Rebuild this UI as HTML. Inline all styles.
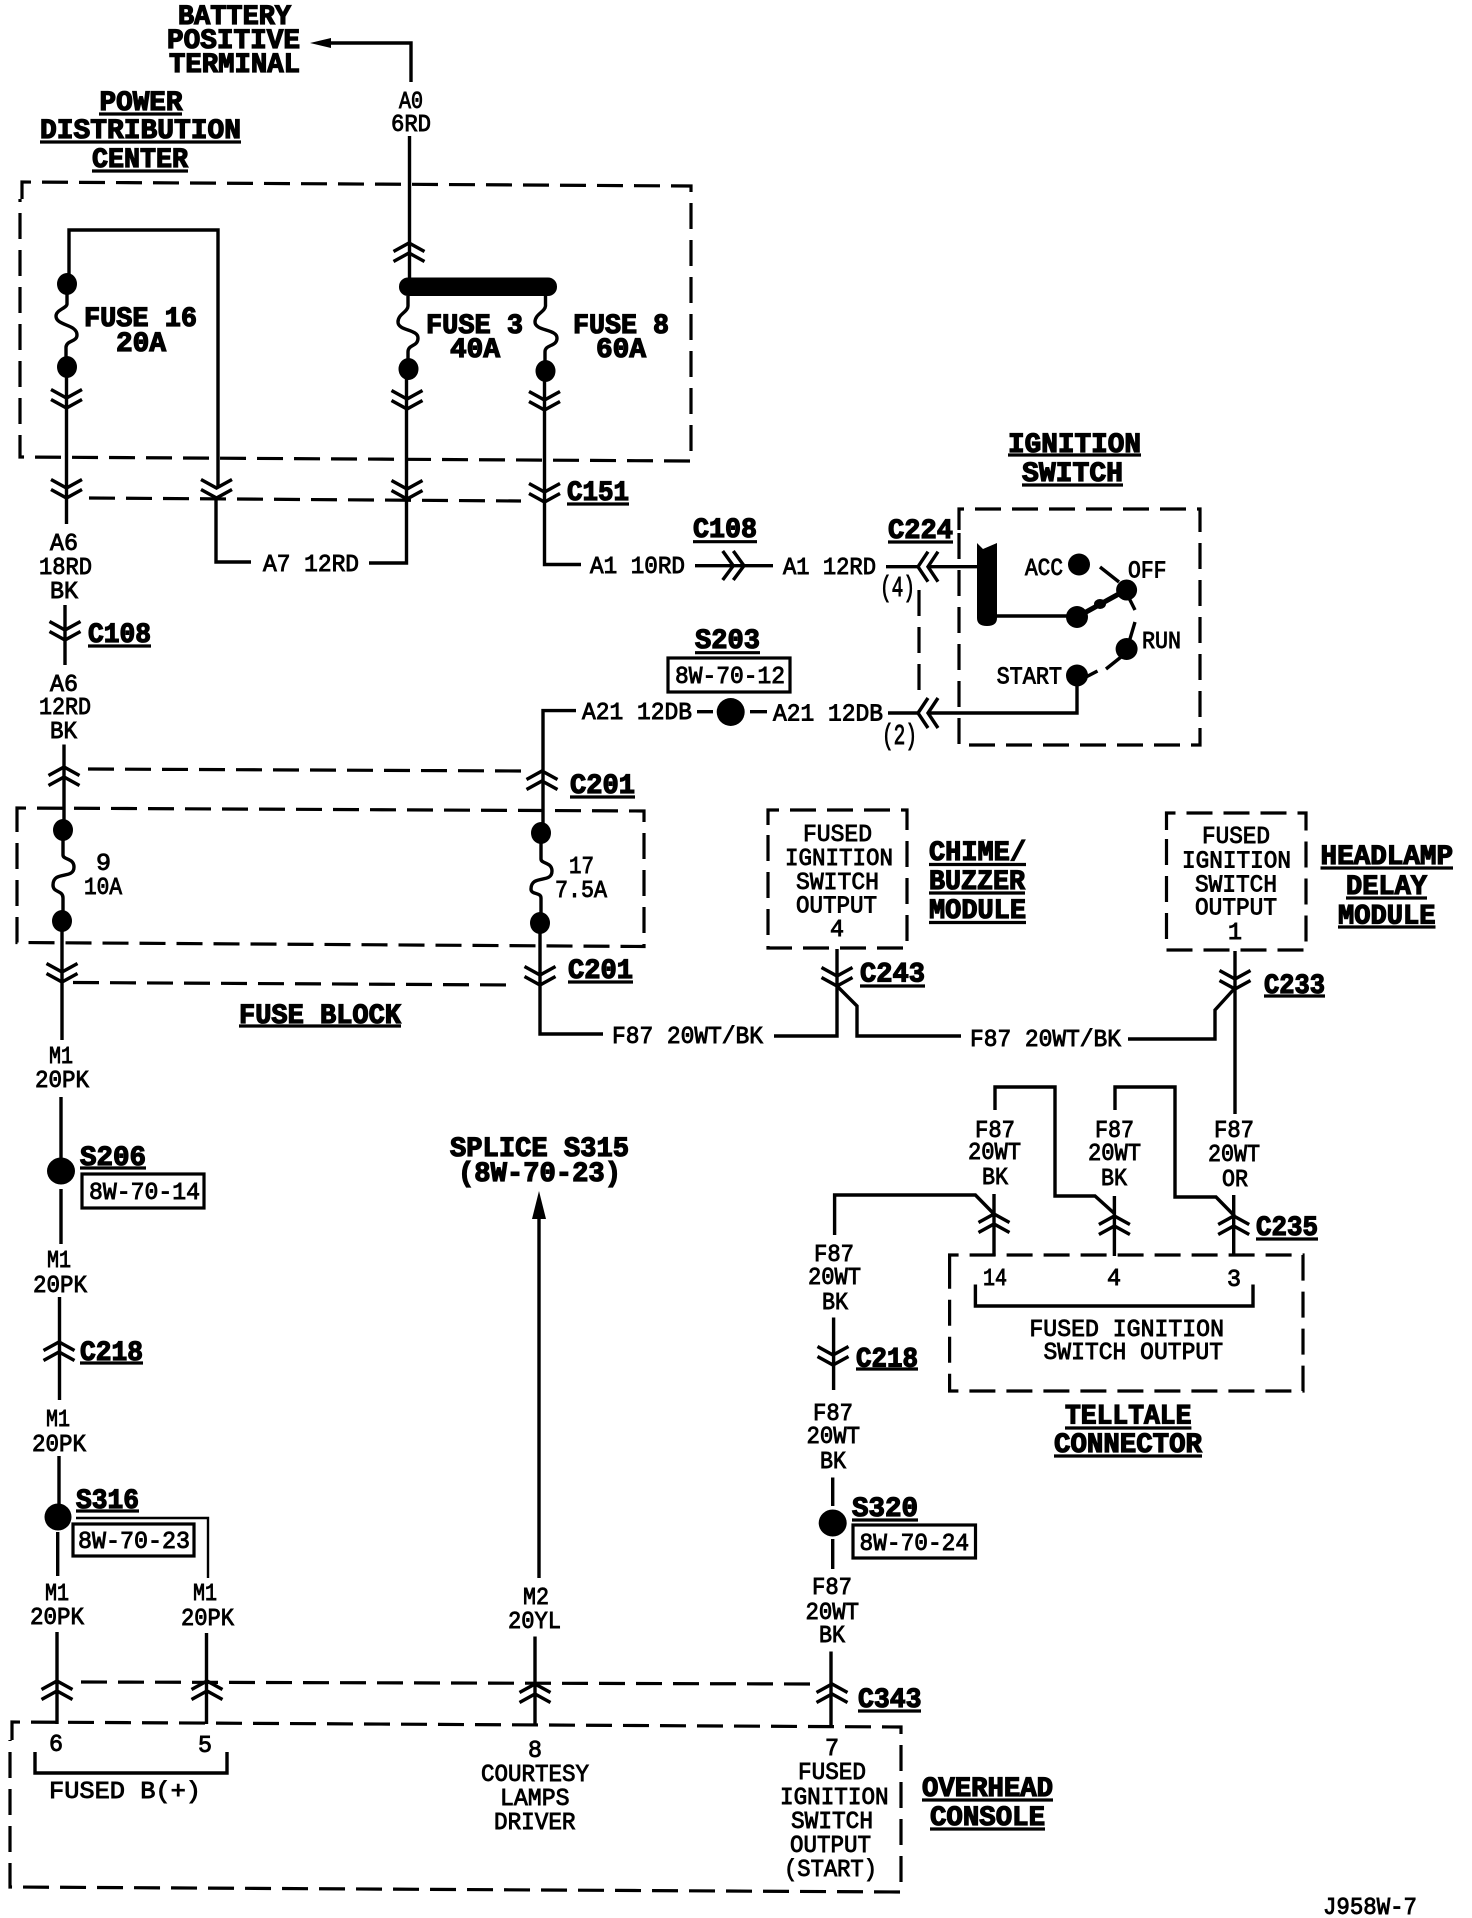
<!DOCTYPE html>
<html><head><meta charset="utf-8"><style>
html,body{margin:0;padding:0;background:#fff}
svg{display:block}
text{font-family:"Liberation Mono","Liberation Sans",sans-serif;font-size:24px;fill:#000;stroke:#000;stroke-width:.9px}
.h{font-weight:bold;font-size:28px;stroke-width:1.3px}
.p{font-size:29px}
.w{fill:none;stroke:#000;stroke-width:3.4;stroke-linejoin:miter}
.t{stroke-width:2.4}
.d{fill:none;stroke:#000;stroke-width:3.2;stroke-dasharray:26 11}
.u{fill:none;stroke:#000;stroke-width:3.2}
</style></head><body>
<svg width="1472" height="1918" viewBox="0 0 1472 1918" xmlns="http://www.w3.org/2000/svg">
<defs>
<g id="cd" class="w"><polyline points="-15.5,-8.5 0,0 15.5,-8.5"/><polyline points="-15.5,1.5 0,10 15.5,1.5"/></g>
<g id="cu" class="w"><polyline points="-15.5,8.5 0,0 15.5,8.5"/><polyline points="-15.5,18.5 0,10 15.5,18.5"/></g>
</defs>

<!-- Battery -->
<text class="h" x="178" y="24" textLength="113" lengthAdjust="spacingAndGlyphs">BATTERY</text>
<text class="h" x="167" y="48" textLength="133" lengthAdjust="spacingAndGlyphs">POSITIVE</text>
<text class="h" x="169" y="72" textLength="131" lengthAdjust="spacingAndGlyphs">TERMINAL</text>
<polygon points="310,43 331,38 331,48" fill="#000"/>
<path class="w" d="M329 43H411V82"/>
<text x="399" y="108" textLength="24" lengthAdjust="spacingAndGlyphs">A0</text>
<text x="391" y="131" textLength="40" lengthAdjust="spacingAndGlyphs">6RD</text>
<path class="w" d="M409.5 136V290"/>

<!-- PDC -->
<text class="h" x="99.5" y="110" textLength="83" lengthAdjust="spacingAndGlyphs">POWER</text><path class="u" d="M99 114H182"/>
<text class="h" x="40" y="138" textLength="201" lengthAdjust="spacingAndGlyphs">DISTRIBUTION</text><path class="u" d="M40 142H241"/>
<text class="h" x="92" y="167" textLength="96" lengthAdjust="spacingAndGlyphs">CENTER</text><path class="u" d="M92 171H188"/>
<path class="d" d="M22 199V182L691 186V461L20 457V199"/>

<rect x="399" y="277.5" width="158" height="18.5" rx="9" fill="#000"/>
<use href="#cu" x="409" y="243"/>

<!-- Fuse 16 -->
<path class="w" d="M218 488V230H69V284"/>
<ellipse cx="67" cy="284" rx="10" ry="11" fill="#000"/>
<path class="w" d="M67 294V304C67 308 56 310 56 316C56 326 77 324 77 335C77 342 67 340 66 347V367"/>
<ellipse cx="67" cy="367" rx="10" ry="11" fill="#000"/>
<path class="w" d="M66.5 367V524"/>
<use href="#cd" x="66.5" y="398"/><use href="#cd" x="66.5" y="488"/>
<text class="h" x="84" y="326" textLength="113" lengthAdjust="spacingAndGlyphs">FUSE 16</text>
<text class="h" x="116" y="351" textLength="50" lengthAdjust="spacingAndGlyphs">20A</text>

<!-- Fuse 3 -->
<path class="w" d="M408 296V306C408 312 398 314 398 322C398 331 418 329 418 338C418 347 408 344 408 352V369"/>
<ellipse cx="408.5" cy="369" rx="10" ry="11" fill="#000"/>
<path class="w" d="M406.5 369V563H369"/>
<use href="#cd" x="407" y="399"/><use href="#cd" x="407" y="489"/>
<text class="h" x="426" y="333" textLength="97" lengthAdjust="spacingAndGlyphs">FUSE 3</text>
<text class="h" x="450" y="357" textLength="50" lengthAdjust="spacingAndGlyphs">40A</text>

<!-- Fuse 8 -->
<path class="w" d="M545.5 296V306C545 312 535 314 535 322C535 331 557 329 557 338C557 347 545 344 545 352V371"/>
<ellipse cx="545.5" cy="371" rx="10" ry="11" fill="#000"/>
<path class="w" d="M544.5 371V564.5H581"/>
<use href="#cd" x="544.5" y="400"/><use href="#cd" x="544.5" y="492"/>
<text class="h" x="573" y="333" textLength="96" lengthAdjust="spacingAndGlyphs">FUSE 8</text>
<text class="h" x="596" y="357" textLength="50" lengthAdjust="spacingAndGlyphs">60A</text>

<use href="#cd" x="216.5" y="488"/>
<path class="w" d="M216 498V562H251"/>
<path class="d" d="M89 498L521 501"/>
<text class="h" x="567" y="500" textLength="62" lengthAdjust="spacingAndGlyphs">C151</text><path class="u" d="M567 504H629"/>
<text x="263" y="571" textLength="96" lengthAdjust="spacingAndGlyphs">A7 12RD</text>
<text x="590" y="573" textLength="95" lengthAdjust="spacingAndGlyphs">A1 10RD</text>

<!-- A6 column -->
<text x="50" y="550" textLength="28" lengthAdjust="spacingAndGlyphs">A6</text>
<text x="39" y="574" textLength="53" lengthAdjust="spacingAndGlyphs">18RD</text>
<text x="50" y="598" textLength="28" lengthAdjust="spacingAndGlyphs">BK</text>
<path class="w" d="M65 605V665"/>
<use href="#cd" x="65" y="630"/>
<text class="h" x="88" y="642" textLength="63" lengthAdjust="spacingAndGlyphs">C108</text><path class="u" d="M88 646H151"/>
<text x="50" y="691" textLength="28" lengthAdjust="spacingAndGlyphs">A6</text>
<text x="39" y="714" textLength="52" lengthAdjust="spacingAndGlyphs">12RD</text>
<text x="50" y="738" textLength="27" lengthAdjust="spacingAndGlyphs">BK</text>

<path class="w" d="M64 744.5V830"/>
<use href="#cu" x="64" y="767"/>
<path class="d" d="M88 769L521 771"/>
<use href="#cu" x="542" y="771"/>
<path class="w" d="M576 710.6H543V833"/>
<text class="h" x="570" y="793" textLength="65" lengthAdjust="spacingAndGlyphs">C201</text><path class="u" d="M570 797H635"/>

<!-- Fuse block -->
<path class="d" d="M17 825V808L644 811V946.5L17 942.5V825"/>
<ellipse cx="63" cy="830" rx="10" ry="11" fill="#000"/>
<path class="w" d="M63 840V855C63 860 74 858 74 867C74 880 53 870 53 885C53 893 63 890 63 898V921"/>
<ellipse cx="62" cy="921" rx="10" ry="11" fill="#000"/>
<ellipse cx="541" cy="833" rx="10" ry="11" fill="#000"/>
<path class="w" d="M541 843V859C541 864 552 862 552 871C552 884 531 874 531 889C531 895 541 892 541 898V923"/>
<ellipse cx="540" cy="923" rx="10" ry="11" fill="#000"/>
<text x="96" y="870" textLength="15" lengthAdjust="spacingAndGlyphs">9</text>
<text x="84" y="894" textLength="38" lengthAdjust="spacingAndGlyphs">10A</text>
<text x="569" y="873" textLength="25" lengthAdjust="spacingAndGlyphs">17</text>
<text x="555" y="897" textLength="52" lengthAdjust="spacingAndGlyphs">7.5A</text>

<path class="w" d="M62 921V1040"/>
<use href="#cd" x="62" y="972"/>
<path class="d" d="M73 982.5L516 985"/>
<path class="w" d="M540 923V1034H603"/>
<use href="#cd" x="540" y="975"/>
<text class="h" x="568" y="978" textLength="65" lengthAdjust="spacingAndGlyphs">C201</text><path class="u" d="M568 982H633"/>
<text class="h" x="239" y="1023" textLength="162" lengthAdjust="spacingAndGlyphs">FUSE BLOCK</text><path class="u" d="M239 1026H401"/>

<text x="612" y="1043" textLength="151" lengthAdjust="spacingAndGlyphs">F87 20WT/BK</text>

<!-- M1 column -->
<text x="49" y="1063" textLength="24" lengthAdjust="spacingAndGlyphs">M1</text>
<text x="35" y="1087" textLength="54" lengthAdjust="spacingAndGlyphs">20PK</text>
<path class="w" d="M61 1097V1160M61 1189V1244"/>
<ellipse cx="61" cy="1171" rx="14" ry="13.5" fill="#000"/>
<text class="h" x="80" y="1165" textLength="66" lengthAdjust="spacingAndGlyphs">S206</text><path class="u" d="M80 1168H146"/>
<rect class="u" x="82" y="1174" width="122" height="34"/>
<text x="89" y="1199" textLength="111" lengthAdjust="spacingAndGlyphs">8W-70-14</text>
<text x="47" y="1267" textLength="24" lengthAdjust="spacingAndGlyphs">M1</text>
<text x="33" y="1292" textLength="54" lengthAdjust="spacingAndGlyphs">20PK</text>
<path class="w" d="M59.5 1297V1400"/>
<use href="#cu" x="59" y="1342"/>
<text class="h" x="80" y="1360" textLength="63" lengthAdjust="spacingAndGlyphs">C218</text><path class="u" d="M80 1363H143"/>
<text x="46" y="1426" textLength="24" lengthAdjust="spacingAndGlyphs">M1</text>
<text x="32" y="1451" textLength="54" lengthAdjust="spacingAndGlyphs">20PK</text>
<path class="w" d="M59 1456V1505M57.7 1532V1576"/>
<ellipse cx="58" cy="1517" rx="13.5" ry="13.5" fill="#000"/>
<text class="h" x="76" y="1508" textLength="63" lengthAdjust="spacingAndGlyphs">S316</text><path class="u" d="M76 1511H139"/>
<path class="t w" d="M76 1518H208V1578"/>
<rect class="u" x="73" y="1524" width="121" height="32"/>
<text x="78" y="1548" textLength="112" lengthAdjust="spacingAndGlyphs">8W-70-23</text>

<text x="45" y="1600" textLength="24" lengthAdjust="spacingAndGlyphs">M1</text>
<text x="30" y="1624" textLength="54" lengthAdjust="spacingAndGlyphs">20PK</text>
<text x="193" y="1600" textLength="24" lengthAdjust="spacingAndGlyphs">M1</text>
<text x="181" y="1625" textLength="53" lengthAdjust="spacingAndGlyphs">20PK</text>
<path class="w" d="M57 1632V1724M206.5 1633V1724"/>
<use href="#cu" x="57" y="1681"/><use href="#cu" x="207" y="1681"/>

<!-- Splice -->
<text class="h" x="450" y="1156" textLength="179" lengthAdjust="spacingAndGlyphs">SPLICE S315</text>
<text class="h" x="458" y="1181" textLength="163" lengthAdjust="spacingAndGlyphs">(8W-70-23)</text>
<polygon points="539,1191 546,1219 532,1219" fill="#000"/>
<path class="w" d="M539 1215V1578"/>
<text x="523" y="1604" textLength="26" lengthAdjust="spacingAndGlyphs">M2</text>
<text x="508" y="1628" textLength="53" lengthAdjust="spacingAndGlyphs">20YL</text>
<path class="w" d="M535 1636.5V1725"/>
<use href="#cu" x="535" y="1684"/>

<!-- Overhead -->
<path class="d" d="M81 1682L815 1684"/>
<path class="d" d="M12 1740V1722L901 1727V1892L10 1887V1740"/>
<path class="w" d="M831 1651.5V1726"/>
<use href="#cu" x="832" y="1684"/>
<text class="h" x="858" y="1707" textLength="63.5" lengthAdjust="spacingAndGlyphs">C343</text><path class="u" d="M858 1711H921"/>
<text x="49" y="1751" textLength="14" lengthAdjust="spacingAndGlyphs">6</text>
<text x="198" y="1752" textLength="14" lengthAdjust="spacingAndGlyphs">5</text>
<path class="w" d="M35 1752V1773H227V1752"/>
<text x="49" y="1798" textLength="152" lengthAdjust="spacingAndGlyphs">FUSED B(+)</text>
<text x="528" y="1757" textLength="14" lengthAdjust="spacingAndGlyphs">8</text>
<text x="481" y="1781" textLength="108" lengthAdjust="spacingAndGlyphs">COURTESY</text>
<text x="500" y="1805" textLength="69.5" lengthAdjust="spacingAndGlyphs">LAMPS</text>
<text x="494" y="1829" textLength="81.5" lengthAdjust="spacingAndGlyphs">DRIVER</text>
<text x="825" y="1755" textLength="14" lengthAdjust="spacingAndGlyphs">7</text>
<text x="798" y="1779" textLength="68" lengthAdjust="spacingAndGlyphs">FUSED</text>
<text x="780" y="1804" textLength="108.6" lengthAdjust="spacingAndGlyphs">IGNITION</text>
<text x="791" y="1828" textLength="82" lengthAdjust="spacingAndGlyphs">SWITCH</text>
<text x="790" y="1852" textLength="81" lengthAdjust="spacingAndGlyphs">OUTPUT</text>
<text x="784" y="1876" textLength="93" lengthAdjust="spacingAndGlyphs">(START)</text>
<text class="h" x="922" y="1796" textLength="131" lengthAdjust="spacingAndGlyphs">OVERHEAD</text><path class="u" d="M922 1800H1053"/>
<text class="h" x="930" y="1825" textLength="115" lengthAdjust="spacingAndGlyphs">CONSOLE</text><path class="u" d="M930 1829H1045"/>
<text x="1323" y="1914" textLength="94" lengthAdjust="spacingAndGlyphs">J958W-7</text>

<!-- C108 horizontal + C224 -->
<text class="h" x="693" y="537" textLength="64" lengthAdjust="spacingAndGlyphs">C108</text><path class="u" d="M693 541.7H757"/>
<path class="w" d="M695 565.7H773"/>
<polyline class="w" points="722.7,551 733.3,565.7 722.7,580"/>
<polyline class="w" points="733.3,551 744,565.7 733.3,580"/>
<text x="783" y="574" textLength="93" lengthAdjust="spacingAndGlyphs">A1 12RD</text>
<path class="w" d="M886 566.7H918M928 566.7H980"/>
<polyline class="w" points="928,551.7 918,566.7 928,581.7"/>
<polyline class="w" points="938,551.7 928,566.7 938,581.7"/>
<text class="p" x="880" y="596" textLength="35" lengthAdjust="spacingAndGlyphs">(4)</text>
<text class="h" x="888" y="538" textLength="65" lengthAdjust="spacingAndGlyphs">C224</text><path class="u" d="M888 542H953"/>
<path class="d" d="M919 590V690"/>

<!-- S203 -->
<text class="h" x="695" y="648" textLength="65" lengthAdjust="spacingAndGlyphs">S203</text><path class="u" d="M695 652.7H760"/>
<rect class="u" x="668" y="658" width="122" height="34"/>
<text x="675" y="683" textLength="110" lengthAdjust="spacingAndGlyphs">8W-70-12</text>
<text x="582" y="719" textLength="110" lengthAdjust="spacingAndGlyphs">A21 12DB</text>
<path class="w" d="M697 711.7H713M750 711.7H767"/>
<circle cx="730.7" cy="712" r="14" fill="#000"/>
<text x="773" y="720.7" textLength="110" lengthAdjust="spacingAndGlyphs">A21 12DB</text>
<path class="w" d="M888 713H918M928 713H1077V675"/>
<polyline class="w" points="928,698 918,713 928,728"/>
<polyline class="w" points="938,698 928,713 938,728"/>
<text class="p" x="882" y="744" textLength="35" lengthAdjust="spacingAndGlyphs">(2)</text>

<!-- Ignition switch -->
<text class="h" x="1008" y="452" textLength="133" lengthAdjust="spacingAndGlyphs">IGNITION</text><path class="u" d="M1008 455H1141"/>
<text class="h" x="1022" y="481" textLength="101" lengthAdjust="spacingAndGlyphs">SWITCH</text><path class="u" d="M1022 485H1123"/>
<path class="d" d="M959 530V509H1200V745H959V530"/>
<path d="M977 543L983 549L997 543V618Q997 626 987 626Q977 626 977 618Z" fill="#000"/>
<path class="w" d="M995 616H1077"/>
<circle cx="1077" cy="617" r="11" fill="#000"/>
<text x="1025" y="575" textLength="38" lengthAdjust="spacingAndGlyphs">ACC</text>
<circle cx="1079" cy="564.5" r="11" fill="#000"/>
<text x="1128" y="577.5" textLength="38.5" lengthAdjust="spacingAndGlyphs">OFF</text>
<circle cx="1126.6" cy="590" r="10.5" fill="#000"/>
<path class="w" d="M1100 567L1119 582M1128 596L1135 610" />
<path d="M1077 617L1126 590" fill="none" stroke="#000" stroke-width="5"/>
<ellipse cx="1100" cy="604" rx="6" ry="5" fill="#000"/>
<circle cx="1126.6" cy="649" r="11" fill="#000"/>
<text x="1142" y="648" textLength="39" lengthAdjust="spacingAndGlyphs">RUN</text>
<path class="w" d="M1135 622L1127 649M1121 657L1106 669"/>
<text x="996.6" y="683.7" textLength="65.4" lengthAdjust="spacingAndGlyphs">START</text>
<circle cx="1077" cy="675.5" r="11" fill="#000"/>
<path class="w" d="M1086 677L1097.5 671"/>

<!-- Chime -->
<path class="d" d="M768 825V810H907V948H768V825"/>
<text x="803" y="841" textLength="69" lengthAdjust="spacingAndGlyphs">FUSED</text>
<text x="785" y="865" textLength="108" lengthAdjust="spacingAndGlyphs">IGNITION</text>
<text x="796" y="889" textLength="83" lengthAdjust="spacingAndGlyphs">SWITCH</text>
<text x="796" y="912.5" textLength="81" lengthAdjust="spacingAndGlyphs">OUTPUT</text>
<text x="830" y="936" textLength="14" lengthAdjust="spacingAndGlyphs">4</text>
<text class="h" x="929" y="860" textLength="97" lengthAdjust="spacingAndGlyphs">CHIME/</text><path class="u" d="M929 864.5H1026"/>
<text class="h" x="929" y="889" textLength="96" lengthAdjust="spacingAndGlyphs">BUZZER</text><path class="u" d="M929 893H1025"/>
<text class="h" x="929" y="918" textLength="97" lengthAdjust="spacingAndGlyphs">MODULE</text><path class="u" d="M929 922.5H1026"/>
<path class="w" d="M837 949V1036H774"/>
<use href="#cd" x="837" y="976"/>
<path class="w" d="M837 986L857 1006V1036H961"/>
<text class="h" x="860" y="981.6" textLength="65" lengthAdjust="spacingAndGlyphs">C243</text><path class="u" d="M860 986H925"/>
<text x="970" y="1046" textLength="151" lengthAdjust="spacingAndGlyphs">F87 20WT/BK</text>

<!-- Headlamp -->
<path class="d" d="M1166.5 830V813H1306V950H1166.5V830"/>
<text x="1202" y="843" textLength="68" lengthAdjust="spacingAndGlyphs">FUSED</text>
<text x="1182" y="867.6" textLength="109" lengthAdjust="spacingAndGlyphs">IGNITION</text>
<text x="1195" y="891.7" textLength="82" lengthAdjust="spacingAndGlyphs">SWITCH</text>
<text x="1195" y="914.5" textLength="82" lengthAdjust="spacingAndGlyphs">OUTPUT</text>
<text x="1228" y="939" textLength="14" lengthAdjust="spacingAndGlyphs">1</text>
<text class="h" x="1320.5" y="864" textLength="132.5" lengthAdjust="spacingAndGlyphs">HEADLAMP</text><path class="u" d="M1320.5 868H1453"/>
<text class="h" x="1346" y="894" textLength="81" lengthAdjust="spacingAndGlyphs">DELAY</text><path class="u" d="M1346 898H1427"/>
<text class="h" x="1338" y="923.5" textLength="97.5" lengthAdjust="spacingAndGlyphs">MODULE</text><path class="u" d="M1338 927H1435.5"/>
<path class="w" d="M1235 951V1114"/>
<use href="#cd" x="1235" y="979"/>
<path class="w" d="M1235 988L1215 1010V1039H1128"/>
<text class="h" x="1264" y="993" textLength="61" lengthAdjust="spacingAndGlyphs">C233</text><path class="u" d="M1264 996H1325"/>

<!-- Telltale -->
<path class="w" d="M995 1110V1087H1055V1196H1095L1115 1214"/>
<path class="w" d="M1115 1110V1087H1175V1197H1216L1234.6 1216"/>
<path class="w" d="M834.6 1235V1195H975.4L994 1214"/>
<path class="w" d="M994 1194V1256M1114.4 1196V1256M1233.7 1195V1256"/>
<use href="#cu" x="994" y="1214"/><use href="#cu" x="1114.4" y="1216"/><use href="#cu" x="1233.7" y="1216"/>
<text x="975" y="1137" textLength="40" lengthAdjust="spacingAndGlyphs">F87</text>
<text x="968" y="1159" textLength="53" lengthAdjust="spacingAndGlyphs">20WT</text>
<text x="982" y="1184" textLength="26" lengthAdjust="spacingAndGlyphs">BK</text>
<text x="1095" y="1137" textLength="39" lengthAdjust="spacingAndGlyphs">F87</text>
<text x="1088" y="1160" textLength="53" lengthAdjust="spacingAndGlyphs">20WT</text>
<text x="1101" y="1185" textLength="26" lengthAdjust="spacingAndGlyphs">BK</text>
<text x="1214" y="1137" textLength="40" lengthAdjust="spacingAndGlyphs">F87</text>
<text x="1208" y="1161" textLength="52" lengthAdjust="spacingAndGlyphs">20WT</text>
<text x="1222" y="1186" textLength="26" lengthAdjust="spacingAndGlyphs">OR</text>
<text class="h" x="1256" y="1235" textLength="62" lengthAdjust="spacingAndGlyphs">C235</text><path class="u" d="M1256 1239H1318"/>
<path class="d" d="M949.6 1272V1255H1303V1391H949.6V1272"/>
<text x="983" y="1285" textLength="24" lengthAdjust="spacingAndGlyphs">14</text>
<text x="1107" y="1285" textLength="14" lengthAdjust="spacingAndGlyphs">4</text>
<text x="1227" y="1286" textLength="14" lengthAdjust="spacingAndGlyphs">3</text>
<path class="w" d="M975.4 1284.5V1306H1253V1284.5"/>
<text x="1029.4" y="1336" textLength="194.6" lengthAdjust="spacingAndGlyphs">FUSED IGNITION</text>
<text x="1043.5" y="1359" textLength="179.5" lengthAdjust="spacingAndGlyphs">SWITCH OUTPUT</text>
<text class="h" x="1065" y="1423.7" textLength="126.4" lengthAdjust="spacingAndGlyphs">TELLTALE</text><path class="u" d="M1065 1428H1191.4"/>
<text class="h" x="1054" y="1452" textLength="148" lengthAdjust="spacingAndGlyphs">CONNECTOR</text><path class="u" d="M1054 1456H1202"/>

<!-- F87 lower column -->
<text x="814" y="1261" textLength="40" lengthAdjust="spacingAndGlyphs">F87</text>
<text x="808" y="1284" textLength="53" lengthAdjust="spacingAndGlyphs">20WT</text>
<text x="822" y="1309" textLength="26" lengthAdjust="spacingAndGlyphs">BK</text>
<path class="w" d="M833.6 1317.5V1390"/>
<use href="#cd" x="833" y="1355"/>
<text class="h" x="856" y="1366.5" textLength="62" lengthAdjust="spacingAndGlyphs">C218</text><path class="u" d="M856 1369H918"/>
<text x="813" y="1420" textLength="40" lengthAdjust="spacingAndGlyphs">F87</text>
<text x="806.5" y="1443" textLength="53.5" lengthAdjust="spacingAndGlyphs">20WT</text>
<text x="820" y="1468" textLength="26" lengthAdjust="spacingAndGlyphs">BK</text>
<path class="w" d="M832.7 1477.5V1506M832.7 1539V1569"/>
<ellipse cx="832.7" cy="1523" rx="14" ry="13.5" fill="#000"/>
<text class="h" x="852" y="1516" textLength="66" lengthAdjust="spacingAndGlyphs">S320</text><path class="u" d="M852 1520H918"/>
<rect class="u" x="853" y="1525" width="122.5" height="33"/>
<text x="859.5" y="1550" textLength="109.5" lengthAdjust="spacingAndGlyphs">8W-70-24</text>
<text x="812" y="1594" textLength="40" lengthAdjust="spacingAndGlyphs">F87</text>
<text x="805.5" y="1619" textLength="53.5" lengthAdjust="spacingAndGlyphs">20WT</text>
<text x="819" y="1642" textLength="26" lengthAdjust="spacingAndGlyphs">BK</text>
</svg>
</body></html>
